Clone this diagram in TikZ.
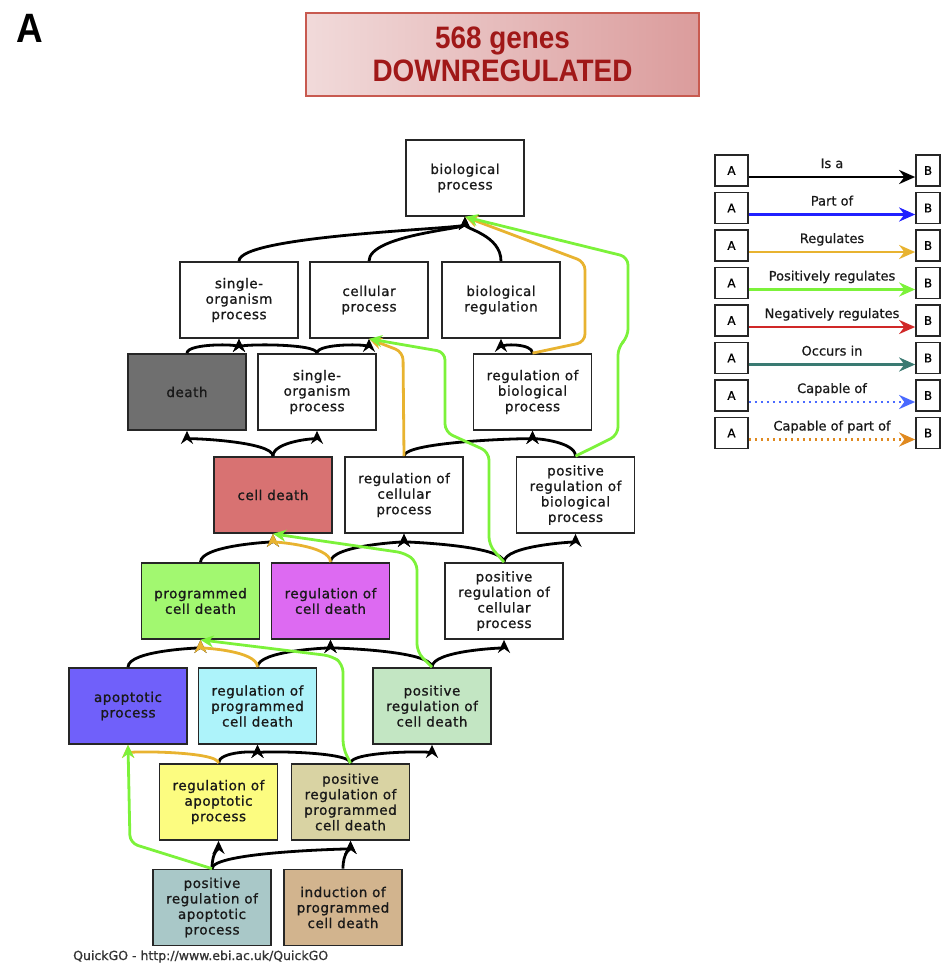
\documentclass[tikz,border=0pt]{standalone}
\usepackage{fontspec}
\usepackage{tikz}
\usetikzlibrary{arrows.meta}
\newfontfamily\gofont[LetterSpace=4,FakeBold=1]{DejaVu Sans}
\newfontfamily\legfont[FakeBold=0.8]{DejaVu Sans}
\newfontfamily\bannerfont[FakeStretch=0.9]{Liberation Sans}

\definecolor{regorange}{HTML}{E8B330}
\definecolor{posgreen}{HTML}{7CF23A}
\definecolor{deathgray}{HTML}{6F6F6F}
\definecolor{celldeath}{HTML}{D87272}
\definecolor{pcdgreen}{HTML}{A2F870}
\definecolor{rcdpink}{HTML}{DD6AF2}
\definecolor{apblue}{HTML}{7060FA}
\definecolor{rpcdcyan}{HTML}{ADF3FA}
\definecolor{prcdgreen}{HTML}{C3E6C3}
\definecolor{rapyellow}{HTML}{FCFC80}
\definecolor{prpcdkhaki}{HTML}{D9D3A3}
\definecolor{prapgray}{HTML}{A9C8C8}
\definecolor{ipcdtan}{HTML}{D2B48E}
\definecolor{bannerlight}{HTML}{F1DADA}
\definecolor{bannerdark}{HTML}{DB9C9C}
\definecolor{bannerline}{HTML}{C85A50}
\definecolor{bannertext}{HTML}{A01818}
\definecolor{partblue}{HTML}{2020FF}
\definecolor{negred}{HTML}{D02828}
\definecolor{occteal}{HTML}{3A7A72}
\definecolor{capblue}{HTML}{4A6AFF}
\definecolor{caporange}{HTML}{E08A20}

\tikzstyle{banner} = [draw=bannerline, line width=1.5pt, left color=bannerlight, right color=bannerdark, minimum width=393pt, minimum height=83pt, inner sep=0pt, align=center, text=bannertext, font=\bannerfont\bfseries\fontsize{31}{33}\selectfont]
\tikzstyle{term} = [draw=black!85, line width=1.7pt, minimum width=118pt, minimum height=76pt, inner sep=0pt, align=center, text=black!90, font=\gofont\fontsize{13.5}{15.5}\selectfont]
\tikzstyle{isa} = [line width=2.8pt, ->, >={Stealth[length=13pt,width=12pt]}, to path={.. controls +(0,-\rise) and +(0,\sink) .. (\tikztotarget)}]
\tikzstyle{regulates} = [isa, draw=regorange]
\tikzstyle{posreg} = [line width=2.8pt, ->, >={Stealth[length=13pt,width=12pt]}, draw=posgreen, rounded corners=8pt]
\tikzstyle{legbox} = [draw=black!85, line width=1.7pt, minimum width=33pt, minimum height=31pt, inner sep=0pt, font=\legfont\fontsize{12}{13}\selectfont]
\tikzstyle{legarrow} = [line width=2.8pt, ->, >={Stealth[length=16pt,width=14pt]}]
\tikzstyle{leglabel} = [midway, anchor=base, yshift=9pt, inner sep=0pt, text=black!90, font=\legfont\fontsize{13}{15}\selectfont]

\begin{document}
\begin{tikzpicture}[x=1pt,y=-1pt]
	\useasboundingbox (0,0) rectangle (941,975);
	
	% define constants
	\def \legrow {37.5}
	\def \lega {731.5}
	\def \legb {928}
	
	% Heading
	\node[anchor=base west, inner sep=0pt, font=\bannerfont\bfseries\fontsize{41}{41}\selectfont] (panel) at (16,42) {A};
	\node[banner] (banner) at (502.5,54.5) {568 genes\\DOWNREGULATED};
	
	% GO terms
	\node[term] (bp) at (465,178) {biological\\process};
	\node[term] (sop) at (239,300) {single-\\organism\\process};
	\node[term] (cp) at (369,300) {cellular\\process};
	\node[term] (br) at (501,300) {biological\\regulation};
	\node[term,fill=deathgray] (death) at (187,392) {death};
	\node[term] (sop2) at (317,392) {single-\\organism\\process};
	\node[term] (rbp) at (532.5,392) {regulation of\\biological\\process};
	\node[term,fill=celldeath] (cd) at (273,495) {cell death};
	\node[term] (rcp) at (404,495) {regulation of\\cellular\\process};
	\node[term] (prbp) at (575.5,495) {positive\\regulation of\\biological\\process};
	\node[term,fill=pcdgreen] (pcd) at (200.5,601) {programmed\\cell death};
	\node[term,fill=rcdpink] (rcd) at (330.5,601) {regulation of\\cell death};
	\node[term] (prcp) at (504,601) {positive\\regulation of\\cellular\\process};
	\node[term,fill=apblue] (ap) at (128,706) {apoptotic\\process};
	\node[term,fill=rpcdcyan] (rpcd) at (257.5,706) {regulation of\\programmed\\cell death};
	\node[term,fill=prcdgreen] (prcd) at (432,706) {positive\\regulation of\\cell death};
	\node[term,fill=rapyellow] (rap) at (218.5,802) {regulation of\\apoptotic\\process};
	\node[term,fill=prpcdkhaki] (prpcd) at (350.5,802) {positive\\regulation of\\programmed\\cell death};
	\node[term,fill=prapgray] (prap) at (212,907.5) {positive\\regulation of\\apoptotic\\process};
	\node[term,fill=ipcdtan] (ipcd) at (343,907.5) {induction of\\programmed\\cell death};
	
	% Is a (bend follows the gap between rows)
	\def \rise {26} \def \sink {12}
	\draw[isa] (sop.north) to (bp.south);
	\draw[isa] (cp.north) to (bp.south);
	\draw[isa] (br.north) to (bp.south);
	\def \rise {10} \def \sink {5}
	\draw[isa] (death.north) to (sop.south);
	\draw[isa] (sop2.north) to (sop.south);
	\draw[isa] (sop2.north) to (cp.south);
	\draw[isa] (rbp.north) to (br.south);
	\def \rise {15} \def \sink {7}
	\draw[isa] (cd.north) to (death.south);
	\draw[isa] (cd.north) to (sop2.south);
	\draw[isa] (rcp.north) to (rbp.south);
	\draw[isa] (prbp.north) to (rbp.south);
	\def \rise {17} \def \sink {8}
	\draw[isa] (pcd.north) to (cd.south);
	\draw[isa] (rcd.north) to (rcp.south);
	\draw[isa] (prcp.north) to (rcp.south);
	\draw[isa] (prcp.north) to (prbp.south);
	\draw[isa] (ap.north) to (pcd.south);
	\draw[isa] (rpcd.north) to (rcd.south);
	\draw[isa] (prcd.north) to (rcd.south);
	\draw[isa] (prcd.north) to (prcp.south);
	\draw[isa] (prap.north) to (rap.south);
	\draw[isa] (prap.north) to (prpcd.south);
	\draw[isa] (ipcd.north) to (prpcd.south);
	\def \rise {12} \def \sink {6}
	\draw[isa] (rap.north) to (rpcd.south);
	\draw[isa] (prpcd.north) to (rpcd.south);
	\draw[isa] (prpcd.north) to (prcd.south);
	
	% Regulates
	\draw[regulates, rounded corners=8pt] (rbp.north) -- (585,342) -- (585,262) -- (bp.south);
	\draw[regulates, rounded corners=8pt] (rcp.north) -- (403,352) -- (cp.south);
	\def \rise {17} \def \sink {8}
	\draw[regulates] (rcd.north) to (cd.south);
	\draw[regulates] (rpcd.north) to (pcd.south);
	\def \rise {12} \def \sink {6}
	\draw[regulates] (rap.north) to (ap.south);
	
	% Positively regulates
	\draw[posreg] (prbp.north) -- (618,435) -- (618,347) -- (628,337) -- (628,257) -- (bp.south);
	\draw[posreg] (prcp.north) -- (489,545) -- (489,452) -- (445,432) -- (445,352) -- (cp.south);
	\draw[posreg] (prcd.north) -- (417,652) -- (417,562) -- (405,553) -- (cd.south);
	\draw[posreg] (prpcd.north) -- (343,748) -- (343,664) -- (332,656) -- (pcd.south);
	\draw[posreg] (prap.north) -- (130,843) -- (ap.south);
	
	% Source
	\node[anchor=base west, inner sep=0pt, text=black!80, font=\legfont\fontsize{12.5}{14}\selectfont] (source) at (73,960) {QuickGO - http://www.ebi.ac.uk/QuickGO};
	
	% Legend boxes
	\node[legbox] (la1) at (\lega,170.5) {A};
	\node[legbox] (la2) at (\lega,170.5+\legrow) {A};
	\node[legbox] (la3) at (\lega,170.5+2*\legrow) {A};
	\node[legbox] (la4) at (\lega,170.5+3*\legrow) {A};
	\node[legbox] (la5) at (\lega,170.5+4*\legrow) {A};
	\node[legbox] (la6) at (\lega,170.5+5*\legrow) {A};
	\node[legbox] (la7) at (\lega,170.5+6*\legrow) {A};
	\node[legbox] (la8) at (\lega,170.5+7*\legrow) {A};
	\node[legbox,minimum width=24pt] (lb1) at (\legb,170.5) {B};
	\node[legbox,minimum width=24pt] (lb2) at (\legb,170.5+\legrow) {B};
	\node[legbox,minimum width=24pt] (lb3) at (\legb,170.5+2*\legrow) {B};
	\node[legbox,minimum width=24pt] (lb4) at (\legb,170.5+3*\legrow) {B};
	\node[legbox,minimum width=24pt] (lb5) at (\legb,170.5+4*\legrow) {B};
	\node[legbox,minimum width=24pt] (lb6) at (\legb,170.5+5*\legrow) {B};
	\node[legbox,minimum width=24pt] (lb7) at (\legb,170.5+6*\legrow) {B};
	\node[legbox,minimum width=24pt] (lb8) at (\legb,170.5+7*\legrow) {B};
	
	% Legend arrows
	\draw[legarrow] ([yshift=-6.5pt]la1.east) -- ([yshift=-6.5pt]lb1.west) node[leglabel] {Is a};
	\draw[legarrow, draw=partblue] ([yshift=-6.5pt]la2.east) -- ([yshift=-6.5pt]lb2.west) node[leglabel] {Part of};
	\draw[legarrow, draw=regorange] ([yshift=-6.5pt]la3.east) -- ([yshift=-6.5pt]lb3.west) node[leglabel] {Regulates};
	\draw[legarrow, draw=posgreen] ([yshift=-6.5pt]la4.east) -- ([yshift=-6.5pt]lb4.west) node[leglabel] {Positively regulates};
	\draw[legarrow, draw=negred] ([yshift=-6.5pt]la5.east) -- ([yshift=-6.5pt]lb5.west) node[leglabel] {Negatively regulates};
	\draw[legarrow, draw=occteal] ([yshift=-6.5pt]la6.east) -- ([yshift=-6.5pt]lb6.west) node[leglabel] {Occurs in};
	\draw[legarrow, draw=capblue, dash pattern=on 2.5pt off 3.5pt] ([yshift=-6.5pt]la7.east) -- ([yshift=-6.5pt]lb7.west) node[leglabel] {Capable of};
	\draw[legarrow, draw=caporange, dash pattern=on 2.5pt off 3.5pt] ([yshift=-6.5pt]la8.east) -- ([yshift=-6.5pt]lb8.west) node[leglabel] {Capable of part of};
\end{tikzpicture}
\end{document}
